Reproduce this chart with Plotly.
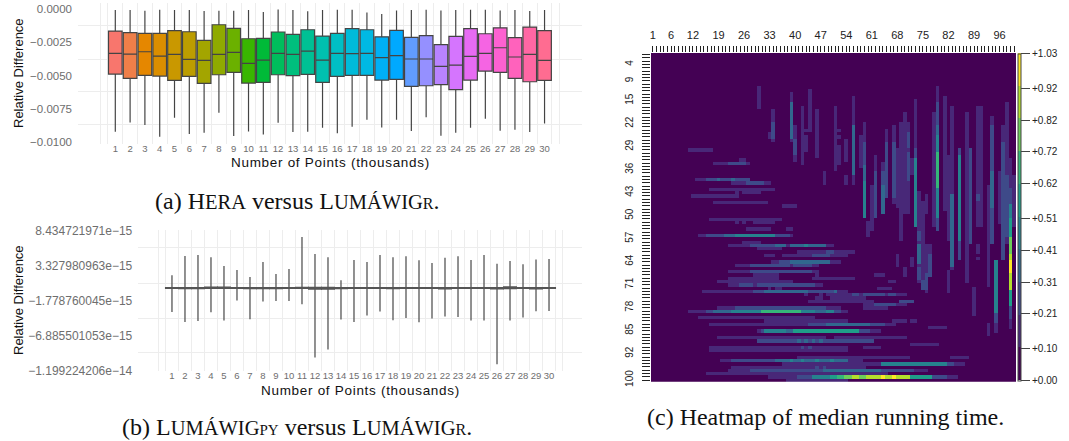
import numpy as np
import plotly.graph_objects as go

# ---------- panel (a): HERA vs LUMAWIG_R, values in units of 1e-4 ----------
CATS = list(range(1, 31))
A_HI = [-0.5,-0.5,-1.0,-0.25,-0.5,-0.5,-1.26,-1.0,-1.0,-0.5,-2.0,0,-0.5,-1.5,-0.5,-0.25,-0.25,-2.3,-3.5,-0.76,-0.5,-0.25,-0.76,-0.5,-0.25,-0.25,-0.76,-0.5,-1.26,-0.5]
A_Q3 = [-16.4,-17.6,-18.1,-18.1,-16.1,-16.9,-23.4,-11.6,-14.4,-22.2,-21.9,-17.1,-18.9,-15.4,-20.2,-18.1,-14.6,-15.4,-20.7,-15.9,-21.2,-19.9,-26.7,-20.4,-14.6,-18.4,-13.9,-21.4,-13.4,-16.1]
A_MED = [-33.3,-33.8,-32.0,-35.3,-34.0,-37.8,-38.5,-34.0,-32.5,-40.8,-38.3,-33.3,-34.0,-31.5,-38.3,-33.3,-33.5,-33.3,-36.5,-35.0,-37.5,-37.5,-43.1,-42.1,-35.5,-33.3,-29.0,-36.0,-34.0,-38.5]
A_Q1 = [-48.9,-52.1,-49.9,-50.4,-53.7,-50.6,-55.9,-49.4,-47.6,-55.7,-55.2,-49.4,-50.1,-49.1,-55.2,-50.6,-49.9,-49.9,-53.4,-52.9,-58.2,-57.7,-56.9,-60.7,-53.4,-46.6,-47.6,-52.1,-54.7,-53.7]
A_LO = [-92.4,-85.4,-87.4,-96.2,-81.9,-94.2,-93.2,-78.1,-95.7,-92.2,-94.5,-85.6,-92.7,-92.4,-89.4,-93.7,-88.7,-83.4,-89.2,-83.4,-91.9,-81.6,-95.5,-93.2,-89.4,-82.6,-91.7,-90.9,-92.7,-86.2]
HUES = ["#F8766D","#EF7F49","#E58700","#DB8E00","#C99800","#BC9D00","#A3A500","#8FAA00","#6BB100","#39B600",
        "#00BA38","#00BD5C","#00BF7D","#00C094","#00C0AF","#00BFC4","#00BBD9","#00B9E3","#00B0F6","#00A9FF",
        "#619CFF","#9590FF","#B983FF","#D575FE","#E76BF3","#F564E3","#FD61D1","#FF62BC","#FF67A4","#FF6C91"]
A_TICKS = [0, -0.0025, -0.005, -0.0075, -0.01]
A_TEXT = ["0.0000", "\u22120.0025", "\u22120.0050", "\u22120.0075", "\u22120.0100"]
A_GRID = [-0.00123, -0.00375, -0.00622, -0.00868]

# ---------- panel (b): values in units of 1e-15 ----------
B_HI = [1.96,4.78,4.93,4.59,3.32,2.74,1.72,3.91,2.15,2.88,7.56,5.08,4.59,1.23,4.20,3.91,4.93,4.59,4.73,4.15,3.76,4.54,4.73,4.20,4.93,3.66,4.05,3.57,4.25,4.35]
B_LO = [-3.40,-4.86,-4.71,-3.45,-4.66,-1.74,-4.47,-1.89,-1.79,-1.79,-2.28,-10.07,-8.90,-4.52,-4.86,-3.93,-3.35,-4.61,-4.27,-4.91,-4.37,-4.08,-4.13,-4.66,-4.66,-11.04,-4.66,-4.23,-3.30,-3.25]
B_Q3 = [.15,.15,.15,.22,.22,.15,.15,.15,.15,.15,.2,.2,.2,.15,.15,.15,.15,.15,.15,.15,.15,.15,.15,.15,.15,.15,.25,.15,.15,.15]
B_MED = [.1]*30
B_Q1 = [.05,.0,.0,.05,.05,.05,.0,.0,.0,.05,.05,-.05,-.05,.0,.05,.05,.05,.0,.05,.05,.05,-.02,.05,.05,.05,-.02,.0,.05,-.02,.05]
B_TICKS = [8.434721971e-15, 3.327980963e-15, -1.778760045e-15, -6.885501053e-15, -1.199224206e-14]
B_TEXT = ["8.434721971e\u221215", "3.327980963e\u221215", "\u22121.778760045e\u221215", "\u22126.885501053e\u221215", "\u22121.199224206e\u221214"]
B_GRID = [5.995e-15, 0.795e-15, -4.317e-15, -9.386e-15]

# ---------- panel (c): heatmap, runs ----------
ROW_RUNS = [
 (30,11,17,.15),(34,18,27,.15),(34,22,26,.25),(33,25,26,.15),(39,13,27,.15),(39,16,22,.25),(39,19,19,.4),(39,23,23,.4),(39,24,27,.25),
 (40,23,33,.15),(40,27,31,.3),(42,17,34,.15),(43,24,24,.15),(43,26,30,.15),(44,12,24,.15),(46,18,32,.15),(47,37,40,.15),
 (51,17,36,.15),(52,24,24,.15),(52,26,26,.15),(52,29,34,.15),(54,27,33,.15),(54,38,39,.15),
 (56,14,39,.15),(56,16,20,.25),(56,21,23,.35),(56,24,34,.45),(56,35,38,.25),(58,26,30,.15),
 (59,22,50,.15),(59,28,34,.25),(59,35,37,.35),(59,39,42,.35),(59,43,43,.5),(59,44,48,.4),(60,30,36,.15),
 (61,41,56,.15),(61,49,50,.3),(62,32,34,.15),(62,37,54,.15),(62,45,49,.25),
 (64,34,52,.15),(64,36,38,.25),(64,39,49,.35),(65,24,46,.15),(65,28,38,.25),(65,40,44,.3),
 (67,22,46,.15),(67,28,44,.25),(68,29,35,.15),(68,46,46,.15),(68,62,64,.15),(69,22,35,.15),(69,45,56,.15),
 (70,19,39,.15),(70,66,67,.15),(71,22,47,.15),(71,25,28,.25),(71,30,45,.25),(72,33,33,.15),(72,35,36,.15),(72,63,66,.15),
 (73,15,54,.15),(73,29,31,.25),(73,32,43,.4),(73,44,50,.25),(73,51,51,.4),
 (74,43,43,.15),(74,47,47,.15),(74,49,70,.15),(74,56,57,.3),(74,59,64,.3),(74,66,67,.3),
 (75,46,47,.15),(75,50,59,.15),(76,44,61,.15),(76,69,72,.25),(77,59,70,.15),(77,62,67,.3),
 (78,19,52,.15),(78,24,48,.3),(78,59,65,.15),
 (79,11,54,.15),(79,16,17,.25),(79,18,22,.35),(79,23,25,.45),(79,26,30,.5),(79,31,41,.65),(79,42,45,.5),(79,46,48,.4),(79,49,50,.5),(79,51,52,.3),
 (81,14,45,.15),(82,32,54,.15),(82,67,70,.15),(82,72,73,.15),
 (83,17,67,.15),(83,44,48,.25),(83,49,60,.35),(83,61,64,.25),(84,77,81,.15),
 (85,30,63,.15),(85,31,31,.25),(85,32,37,.45),(85,38,39,.35),(85,40,57,.55),(85,58,60,.3),
 (87,19,48,.15),(87,51,70,.15),(88,30,61,.3),(88,41,41,.4),(88,43,43,.4),(88,45,45,.4),(88,47,47,.4),(89,72,79,.15),
 (90,17,54,.15),(90,42,42,.3),(90,44,44,.3),(90,59,62,.15),(90,63,63,.15),(91,17,54,.15),
 (93,41,71,.15),(93,83,87,.15),(94,20,58,.15),(94,23,54,.3),(94,35,54,.35),(94,39,39,.45),(94,42,42,.45),(94,46,46,.45),(94,50,50,.45),
 (95,37,86,.15),(95,64,81,.45),(95,82,83,.3),(96,23,59,.15),(96,46,46,.3),(96,48,48,.3),
 (97,22,76,.15),(97,28,47,.25),(97,48,57,.35),(97,58,63,.35),(97,64,72,.3),
 (98,16,65,.15),(98,38,54,.2),
 (99,33,84,.15),(99,41,44,.3),(99,45,49,.45),(99,50,51,.55),(99,52,53,.65),(99,54,55,.75),(99,56,57,.85),(99,58,59,.75),(99,60,63,.85),(99,64,64,.95),(99,65,66,.85),(99,67,67,1.0),(99,68,71,.85),(99,72,77,.55),(99,78,81,.3),
 (100,38,54,.15),
]
COL_RUNS = [
 (30,11,17,.15),(34,18,27,.15),(34,22,26,.28),(33,25,26,.15),(39,13,27,.2),(39,16,26,.35),(40,23,33,.15),(40,27,31,.25),
 (42,17,34,.15),(43,26,30,.15),(44,12,24,.15),(43,24,24,.15),(46,18,32,.15),(51,17,36,.15),(52,24,24,.15),(52,26,26,.15),(52,29,34,.15),
 (48,37,40,.15),(54,27,33,.15),(54,38,40,.15),(56,14,40,.15),(56,23,37,.35),(58,26,35,.15),
 (59,22,50,.15),(59,28,47,.25),(59,35,50,.35),(59,40,50,.45),(61,41,54,.15),(60,52,56,.15),(62,32,36,.15),(62,37,50,.25),
 (64,34,49,.15),(64,37,45,.25),(64,41,49,.4),(65,24,44,.15),(65,28,44,.25),(67,23,46,.15),(67,28,44,.25),(68,30,47,.15),(68,62,65,.15),
 (69,22,57,.15),(70,19,49,.15),(70,66,68,.15),(71,22,49,.15),(71,25,29,.25),(71,31,39,.25),(72,33,37,.15),(72,63,65,.15),
 (73,15,53,.15),(73,30,32,.25),(73,33,44,.45),(73,45,53,.5),(74,43,70,.15),(74,55,57,.3),(74,59,64,.35),(74,66,69,.25),
 (75,46,72,.15),(75,70,72,.25),(76,44,49,.15),(76,59,73,.15),(76,68,72,.3),(77,59,68,.15),(77,62,68,.3),(78,19,53,.15),
 (79,11,54,.15),(79,16,54,.25),(79,23,25,.35),(79,26,30,.5),(79,31,41,.65),(79,42,50,.45),
 (81,14,48,.15),(82,32,57,.15),(82,67,73,.15),(83,17,66,.15),(83,44,65,.4),(85,30,63,.25),(85,32,57,.45),(87,19,70,.15),(88,30,58,.25),(89,72,80,.15),
 (90,17,53,.15),(91,17,53,.15),(90,44,45,.25),(90,59,61,.15),(90,63,63,.15),(93,41,71,.15),(93,83,86,.15),
 (94,20,58,.15),(94,23,36,.25),(94,37,47,.35),(94,48,58,.25),(95,64,85,.15),(95,64,79,.45),(95,80,82,.25),(96,37,52,.15),
 (97,23,63,.15),(97,28,63,.3),(98,16,58,.15),(98,38,56,.25),
 (99,33,84,.15),(99,42,46,.3),(99,47,50,.45),(99,51,56,.55),(99,57,61,.75),(99,62,63,.85),(99,64,67,1.0),(99,68,72,.85),(99,73,77,.6),(99,78,81,.3),
 (100,38,53,.15),
]
VIRIDIS = ["#440154","#482878","#3E4A89","#31688E","#26828E","#1F9E89","#35B779","#6DCD59","#B4DE2C","#FDE725"]
C_XLAB = [1,6,12,19,26,33,40,47,54,61,68,75,82,89,96]
C_YLAB = [4,9,15,22,29,36,43,50,57,64,71,78,85,92,100]
CB_VALS = [0,.10,.21,.31,.41,.51,.62,.72,.82,.92,1.03]
CB_TEXT = ["+0.00","+0.10","+0.21","+0.31","+0.41","+0.51","+0.62","+0.72","+0.82","+0.92","+1.03"]

W, H = 1069, 441
def fx(a, b): return [a / W, b / W]
def fy(top, bottom): return [1 - bottom / H, 1 - top / H]

fig = go.Figure()
SANS = "Liberation Sans"
GRID = "#EDEDED"

for i, k in enumerate(CATS):
    fig.add_trace(go.Box(x=[k], q1=[A_Q1[i]*1e-4], median=[A_MED[i]*1e-4], q3=[A_Q3[i]*1e-4],
                         lowerfence=[A_LO[i]*1e-4], upperfence=[A_HI[i]*1e-4],
                         width=0.92, whiskerwidth=0, fillcolor=HUES[i],
                         line=dict(color="#444444", width=1.2), boxpoints=False,
                         xaxis="x", yaxis="y", hoverinfo="skip", showlegend=False))
    fig.add_trace(go.Box(x=[k], q1=[B_Q1[i]*1e-15], median=[B_MED[i]*1e-15], q3=[B_Q3[i]*1e-15],
                         lowerfence=[B_LO[i]*1e-15], upperfence=[B_HI[i]*1e-15],
                         width=0.98, whiskerwidth=0, fillcolor=HUES[i],
                         line=dict(color="#555555", width=1.3), boxpoints=False,
                         xaxis="x2", yaxis="y2", hoverinfo="skip", showlegend=False))

Z = np.zeros((100, 100))
for col, r0, r1, v in COL_RUNS:
    Z[r0-1:r1, col-1] = v
for row, c0, c1, v in ROW_RUNS:
    Z[row-1, c0-1:c1] = v

n = len(VIRIDIS)
scale = []
for i, c in enumerate(VIRIDIS):
    scale += [[i / n, c], [(i + 1) / n, c]]
fig.add_trace(go.Heatmap(z=Z, x=list(range(1, 101)), y=list(range(1, 101)), zmin=0, zmax=1.03,
                         colorscale=scale, xaxis="x3", yaxis="y3", hoverinfo="skip",
                         colorbar=dict(thickness=3, x=1018/W, xanchor="left", xpad=0, ypad=0,
                                       y=1-380.5/H, yanchor="bottom", len=326.5/H, lenmode="fraction",
                                       tickvals=CB_VALS, ticktext=CB_TEXT, ticks="outside", ticklen=9,
                                       tickcolor="#444444", tickwidth=1,
                                       tickfont=dict(family=SANS, size=10, color="#222222"),
                                       outlinecolor="#444444", outlinewidth=1)))

grid_x = [0] + [k + .5 for k in range(0, 31)] + [31]
tickgray = "#6E6E6E"
common_x = dict(tickmode="array", tickvals=CATS, ticktext=[str(k) for k in CATS], ticks="", showgrid=False,
                zeroline=False, showline=False,
                minor=dict(tickvals=grid_x, showgrid=True, gridcolor=GRID, gridwidth=1.4, ticks=""),
                ticklabelstandoff=-2)
common_y = dict(tickmode="array", ticks="", showgrid=False, zeroline=False, showline=False,
                ticklabelstandoff=5)
ALL_CELLS = list(range(1, 101))

fig.update_layout(
    width=W, height=H, margin=dict(l=0, r=0, t=0, b=0, autoexpand=False), paper_bgcolor="white", plot_bgcolor="white",
    boxmode="overlay", showlegend=False, font=dict(family=SANS),
    xaxis=dict(domain=fx(78, 582), range=[-1.52, 32.53], tickfont=dict(family=SANS, size=9.5, color=tickgray), anchor="y", **common_x),
    yaxis=dict(domain=fy(3.3, 143.5), range=[-0.010136, 0.00046], tickvals=A_TICKS, ticktext=A_TEXT, anchor="x",
               tickfont=dict(family=SANS, size=11.5, color=tickgray),
               minor=dict(tickvals=A_GRID, showgrid=True, gridcolor=GRID, gridwidth=1.4, ticks=""), **common_y),
    xaxis2=dict(domain=fx(138.3, 582.3), range=[-1.59, 32.56], tickfont=dict(family=SANS, size=9.5, color=tickgray), anchor="y2", **common_x),
    yaxis2=dict(domain=fy(230, 370.7), range=[-11.992e-15, 8.58e-15], tickvals=B_TICKS, ticktext=B_TEXT, anchor="x2",
                tickfont=dict(family=SANS, size=12, color=tickgray),
                minor=dict(tickvals=B_GRID, showgrid=True, gridcolor=GRID, gridwidth=1.4, ticks=""), **common_y),
    xaxis3=dict(domain=fx(651, 1016), range=[0.5, 100.5], side="top", anchor="y3", tickmode="array",
                tickvals=C_XLAB, ticktext=[str(k) for k in C_XLAB],
                ticks="outside", ticklen=6, tickwidth=1, tickcolor="#222222", showgrid=False, zeroline=False,
                minor=dict(tickvals=ALL_CELLS, ticks="outside", ticklen=6, tickwidth=1, tickcolor="#222222", showgrid=False),
                tickfont=dict(family=SANS, size=11, color="#222222"), ticklabelstandoff=3, tickangle=0),
    yaxis3=dict(domain=fy(53, 381.7), range=[100.5, 0.5], anchor="x3", tickmode="array",
                tickvals=C_YLAB, ticktext=[str(k) for k in C_YLAB],
                ticks="outside", ticklen=8, tickwidth=1, tickcolor="#222222", showgrid=False, zeroline=False,
                minor=dict(tickvals=ALL_CELLS, ticks="outside", ticklen=8, tickwidth=1, tickcolor="#222222", showgrid=False),
                tickfont=dict(family=SANS, size=10, color="#222222"), ticklabelstandoff=5, tickangle=-90),
)

def ann(text, x, y, size, family=SANS, color="#111111", angle=0):
    fig.add_annotation(text=text, x=x / W, y=1 - y / H, xref="paper", yref="paper", showarrow=False,
                       xanchor="center", yanchor="middle", textangle=angle,
                       font=dict(family=family, size=size, color=color))

def sc(s, px=20.5):
    return f'<span style="font-size:{px}px">{s}</span>'

XT = '<span style="letter-spacing:0.7px">Number of Points (thousands)</span>'
ann("Relative Difference", 18, 73, 13, angle=-90)
ann(XT, 330, 162.5, 13.5)
ann("Relative Difference", 18, 300, 13, angle=-90)
ann(XT, 360, 390.5, 13.5)
SERIF = "Liberation Serif"
ann(f"(a) H{sc('ERA')} versus L{sc('UMÁWIG')}{sc('R', 16)}.", 297, 201, 24, SERIF)
ann(f"(b) L{sc('UMÁWIG')}{sc('PY', 15)} versus L{sc('UMÁWIG')}{sc('R', 16)}.", 297, 427, 24, SERIF)
ann("(c) Heatmap of median running time.", 825, 417, 24, SERIF)

fig.write_html("out.html", config=dict(displayModeBar=False),
               post_script="document.body.style.margin='0';document.body.style.overflow='hidden';")
